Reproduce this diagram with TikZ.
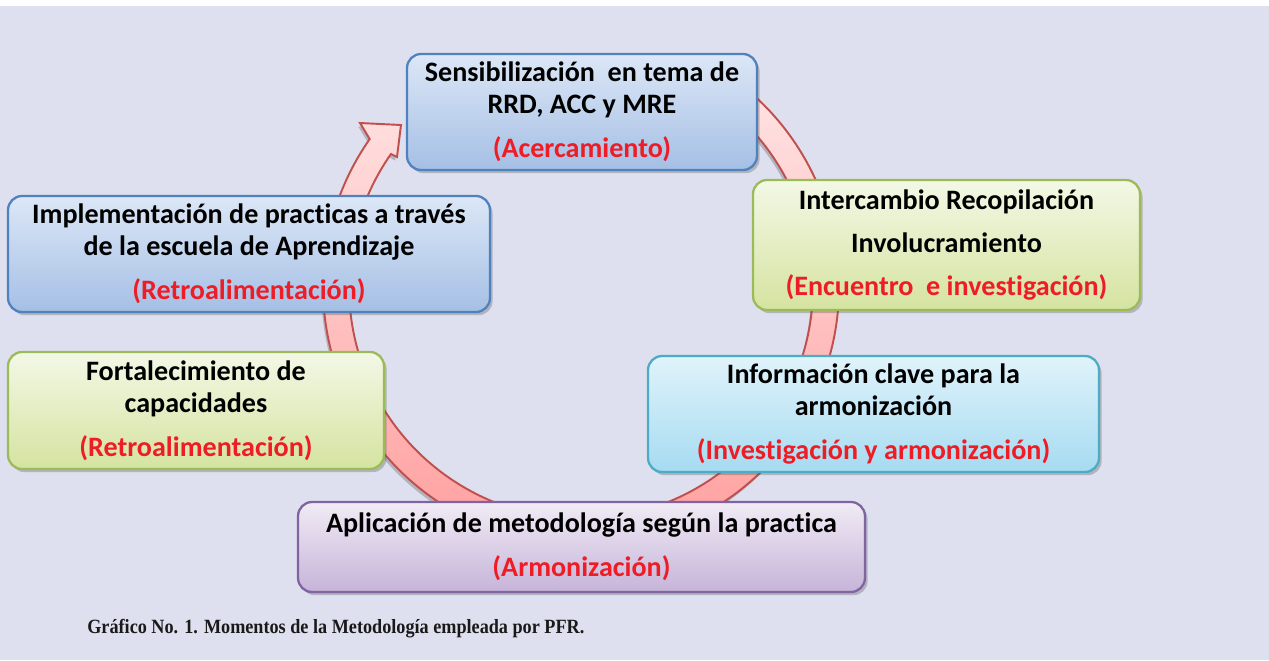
\documentclass[tikz,border=0pt]{standalone}
\usepackage{fontspec}
\setmainfont{Carlito}[Ligatures=NoCommon]
\newfontfamily\capfont[FakeStretch=0.9]{Liberation Serif}
\usetikzlibrary{calc,shadows}

\definecolor{fondo}{HTML}{DFE0EF}
\definecolor{rojotxt}{HTML}{EE1C25}
\definecolor{anillo}{HTML}{C0504D}
\definecolor{azulborde}{HTML}{4F81BD}
\definecolor{verdeborde}{HTML}{9BBB59}
\definecolor{cianborde}{HTML}{4BACC6}
\definecolor{moradoborde}{HTML}{8064A2}
\definecolor{azularriba}{HTML}{DCE7F6}
\definecolor{azulabajo}{HTML}{A5BFE5}
\definecolor{verdearriba}{HTML}{F3F8E6}
\definecolor{verdeabajo}{HTML}{D5E3A0}
\definecolor{cianarriba}{HTML}{E0F3FB}
\definecolor{cianabajo}{HTML}{A6DBF1}
\definecolor{moradoarriba}{HTML}{F1EBF5}
\definecolor{moradoabajo}{HTML}{C6B4D9}

\newcommand{\rojo}[1]{{\color{rojotxt}#1}}

\tikzset{
  caja/.style={draw, rounded corners=0.28cm, line width=1.3pt, inner sep=0pt, align=center,
    font=\bfseries\fontsize{16}{18.2}\selectfont,
    drop shadow={shadow xshift=1.5pt, shadow yshift=-1.8pt, opacity=0.3, fill=black!70}},
  cajaazul/.style={caja, draw=azulborde, top color=azularriba, bottom color=azulabajo},
  cajaverde/.style={caja, draw=verdeborde, top color=verdearriba, bottom color=verdeabajo},
  cajacian/.style={caja, draw=cianborde, top color=cianarriba, bottom color=cianabajo},
  cajamorada/.style={caja, draw=moradoborde, top color=moradoarriba, bottom color=moradoabajo},
}

\begin{document}
\begin{tikzpicture}[x=0.02cm,y=0.02cm]
\useasboundingbox (0,0) rectangle (1269,-660);
\fill[white] (0,0) rectangle (1269,-660);
\fill[fondo] (0,-6) rectangle (1269,-660);

% ciclo
\coordinate (c) at (581,-287);
\filldraw[draw=anillo, line width=1.1pt, top color=red!10!white, bottom color=red!40!white,
  drop shadow={shadow xshift=-1pt, shadow yshift=-2pt, opacity=0.2, fill=black}]
  ($(c)+(58:5.16cm)$) arc[start angle=58, end angle=-215, radius=5.16cm]
  -- (360,-123) -- (401,-125) -- (397,-157)
  -- ($(c)+(145:4.64cm)$) arc[start angle=-215, end angle=58, radius=4.64cm] -- cycle;

\node[cajaazul, minimum width=7cm, minimum height=2.32cm] (sensib) at (582,-112)
  {Sensibilización\ \ en tema de\\RRD, ACC y MRE\\[6.8pt]\rojo{(Acercamiento)}};
\node[cajaverde, minimum width=7.74cm, minimum height=2.6cm] (intercambio) at (946.5,-245)
  {Intercambio Recopilación\\[6.3pt]Involucramiento\\[6.3pt]\rojo{(Encuentro\ \ e investigación)}};
\node[cajacian, minimum width=9.02cm, minimum height=2.32cm] (info) at (873.5,-414)
  {Información clave para la\\armonización\\[6.8pt]\rojo{(Investigación y armonización)}};
\node[cajamorada, minimum width=11.34cm, minimum height=1.8cm] (aplicacion) at (581.5,-547)
  {Aplicación de metodología\ según la practica\\[7pt]\rojo{(Armonización)}};
\node[cajaverde, minimum width=7.52cm, minimum height=2.34cm] (fortalec) at (196,-410.5)
  {Fortalecimiento de\\capacidades\\[6.8pt]\rojo{(Retroalimentación)}};
\node[cajaazul, minimum width=9.64cm, minimum height=2.32cm] (implem) at (249,-254)
  {Implementación de practicas a través\\de la escuela de Aprendizaje\\[6.8pt]\rojo{(Retroalimentación)}};

\node[anchor=base west, inner sep=0pt, text=black!90, font=\capfont\bfseries\fontsize{11.5}{13}\selectfont] (pie) at (87,-633)
  {Gráfico No. 1. Momentos de la Metodología empleada por PFR.};
\end{tikzpicture}
\end{document}
